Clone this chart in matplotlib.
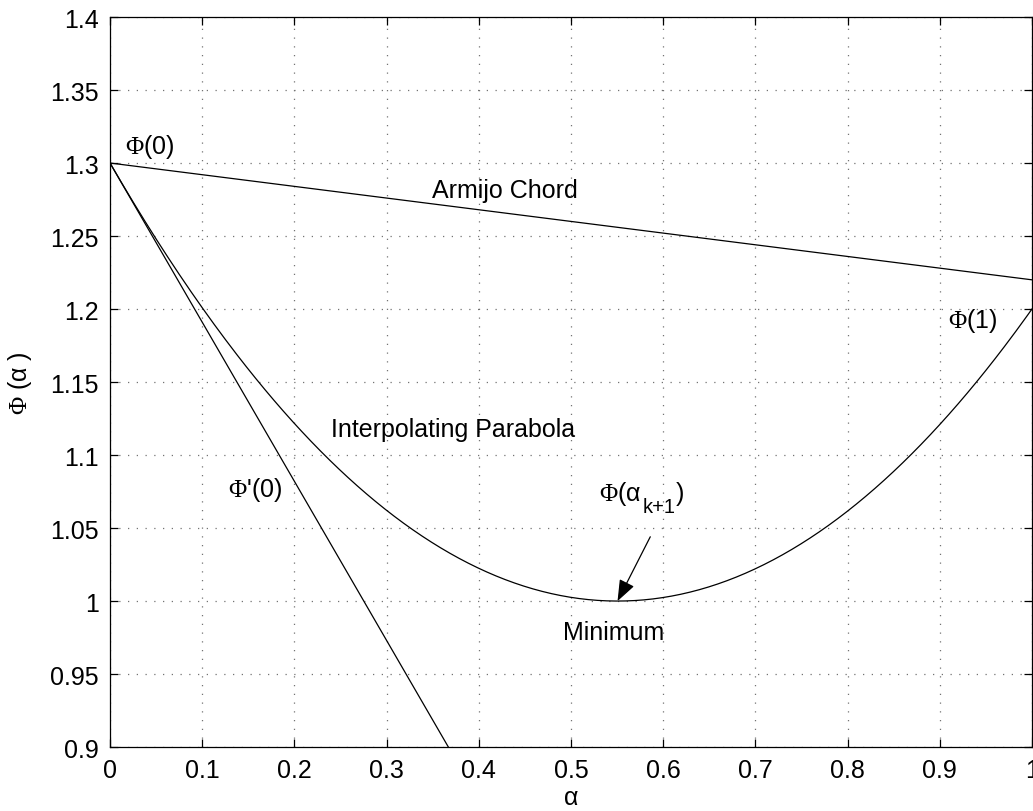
import matplotlib
matplotlib.use("Agg")
import matplotlib.pyplot as plt
import numpy as np

plt.rcParams['font.family'] = ['Liberation Sans', 'DejaVu Sans']
plt.rcParams['mathtext.fontset'] = 'custom'
plt.rcParams['mathtext.rm'] = 'Liberation Serif'
plt.rcParams['mathtext.it'] = 'Liberation Sans'
plt.rcParams['mathtext.sf'] = 'Liberation Sans'

# line search quantities
phi0 = 1.3       # Phi(0)
dphi0 = -1.09    # Phi'(0)
phi1 = 1.2       # Phi(1)
armijo_end = 1.22

xticks = [0, 0.1, 0.2, 0.3, 0.4, 0.5, 0.6, 0.7, 0.8, 0.9, 1]
yticks = [0.9, 0.95, 1, 1.05, 1.1, 1.15, 1.2, 1.25, 1.3, 1.35, 1.4]
xticklabels = ['0', '0.1', '0.2', '0.3', '0.4', '0.5', '0.6', '0.7', '0.8', '0.9', '1']
yticklabels = ['0.9', '0.95', '1', '1.05', '1.1', '1.15', '1.2', '1.25', '1.3', '1.35', '1.4']

# parabola through Phi(0), Phi'(0), Phi(1)
c2 = phi1 - phi0 - dphi0
a = np.linspace(0, 1, 400)
parab = phi0 + dphi0 * a + c2 * a**2
amin = -dphi0 / (2 * c2)
phimin = phi0 + dphi0 * amin + c2 * amin**2

fig = plt.figure(figsize=(10.33, 8.12), dpi=100)
ax = fig.add_axes([0.1065, 0.0788, 0.8925, 0.899])

ax.plot(a, parab, color='k', lw=0.9)
ax.plot([0, 1], [phi0, armijo_end], color='k', lw=0.9)
ax.plot([0, 1], [phi0, phi0 + dphi0], color='k', lw=0.9)

ax.set_xlim(0, 1)
ax.set_ylim(0.9, 1.4)
ax.set_xticks(xticks)
ax.set_xticklabels(xticklabels)
ax.set_yticks(yticks)
ax.set_yticklabels(yticklabels)
ax.tick_params(direction='in', top=True, right=True, length=6, width=0.9,
               labelsize=18, pad=8)
for s in ax.spines.values():
    s.set_linewidth(0.9)
ax.grid(True, color='0.45', linestyle=(0, (1, 6)), lw=0.9)

ax.set_xlabel(r'$\alpha$', fontsize=18, labelpad=2)
ax.set_ylabel(r'$\Phi$ ($\alpha$ )', fontsize=18, labelpad=12)

ts = 18
ax.text(0.016, 1.312, r'$\Phi$(0)', fontsize=ts, va='center')
ax.text(0.349, 1.2815, 'Armijo Chord', fontsize=ts, va='center')
ax.text(0.909, 1.1925, r'$\Phi$(1)', fontsize=ts, va='center')
ax.text(0.240, 1.118, 'Interpolating Parabola', fontsize=ts, va='center')
ax.text(0.128, 1.0767, r"$\Phi$'(0)", fontsize=ts, va='center')
ax.text(0.491, 0.979, 'Minimum', fontsize=ts, va='center')

# Phi(alpha_{k+1}) built from pieces so the subscript sits low
lx, ly = 0.530, 1.069
t1 = ax.text(lx, ly, r'$\Phi$($\alpha$', fontsize=ts, va='baseline')
fig.canvas.draw()
w1 = t1.get_window_extent().width * 72 / fig.dpi
t2 = ax.annotate('k+1', xy=(lx, ly), xytext=(w1 + 1, -8.5), textcoords='offset points',
                 fontsize=14.5, va='baseline')
fig.canvas.draw()
w2 = t2.get_window_extent().width * 72 / fig.dpi
ax.annotate(')', xy=(lx, ly), xytext=(w1 + w2 + 1, 0), textcoords='offset points',
            fontsize=ts, va='baseline')

ax.annotate('', xy=(amin, phimin), xytext=(0.586, 1.044),
            arrowprops=dict(arrowstyle='-|>,head_length=0.65,head_width=0.25',
                            color='k', lw=0.9, mutation_scale=20,
                            shrinkA=0, shrinkB=0))

fig.savefig('out.png', dpi=100)
